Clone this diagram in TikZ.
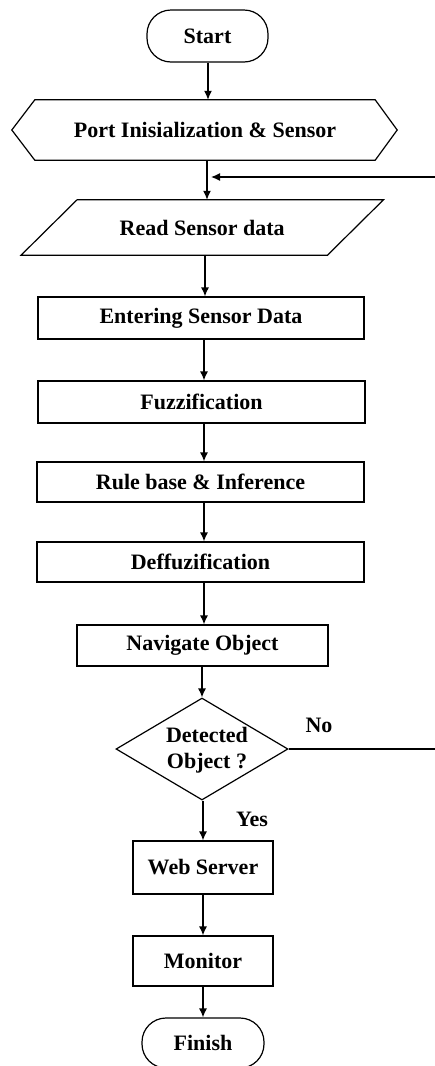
\documentclass[tikz,border=0pt]{standalone}
\usepackage{fontspec}
\setmainfont{Liberation Serif}
\usetikzlibrary{shapes.geometric,arrows.meta}
\begin{document}
\begin{tikzpicture}[x=1pt,y=1pt,
  every node/.style={inner sep=0pt,font=\fontsize{22}{26}\selectfont\bfseries},
  box/.style={draw,rectangle,line width=1.2pt},
  term/.style={draw,rectangle,rounded corners=24pt,line width=1.2pt},
  frame/.style={rectangle,draw=none},
  outline/.style={draw,line width=1.2pt,line join=miter},
  arr/.style={line width=1.3pt,-{Latex[length=9pt,width=8pt]}},
  lbl/.style={anchor=center}
]
\useasboundingbox (0,0) rectangle (435,-1066);
\fill[white] (0,0) rectangle (435,-1066);

% terminals and process boxes
\node[term,minimum width=121pt,minimum height=52pt] (start) at (207.5,-36) {Start};

% preparation (hexagon)
\node[frame,minimum width=340pt,minimum height=60pt] (hex) at (205,-130) {Port Inisialization \& Sensor};
\draw[outline] (hex.north west) -- (hex.north east) -- ([xshift=22pt]hex.east)
  -- (hex.south east) -- (hex.south west) -- ([xshift=-23pt]hex.west) -- cycle;

% input (parallelogram)
\node[frame,minimum width=306pt,minimum height=55pt] (read) at (202.25,-227.5) {Read Sensor data};
\draw[outline] ([xshift=28pt]read.north west) -- ([xshift=28pt]read.north east)
  -- ([xshift=-28pt]read.south east) -- ([xshift=-28pt]read.south west) -- cycle;

\node[box,minimum width=326pt,minimum height=42pt] (enter) at (201,-318) {Entering Sensor Data};
\node[box,minimum width=327pt,minimum height=42pt] (fuzz) at (201.5,-402) {Fuzzification};
\node[box,minimum width=327pt,minimum height=40pt] (rule) at (200.5,-482) {Rule base \& Inference};
\node[box,minimum width=327pt,minimum height=40pt] (deff) at (200.5,-562) {Deffuzification};
\node[box,minimum width=251pt,minimum height=41pt] (nav) at (202.5,-645.5) {Navigate Object};

% decision
\node[diamond,draw,line width=1.2pt,minimum width=172pt,minimum height=102pt] (dec) at (202,-749) {};
\node[align=center] (dectext) at (207,-750) {Detected\\Object ?};

\node[box,minimum width=140pt,minimum height=53pt] (web) at (203,-867.5) {Web Server};
\node[box,minimum width=140pt,minimum height=50pt] (mon) at (203,-961) {Monitor};
\node[term,minimum width=122pt,minimum height=50pt] (fin) at (203,-1043) {Finish};

% branch labels
\node[lbl] (nolbl) at (319,-725) {No};
\node[lbl] (yeslbl) at (252,-819) {Yes};

% main flow
\draw[arr] (208,0 |- start.south) -- (208,0 |- hex.north);
\draw[arr] (207,0 |- hex.south) -- (207,0 |- read.north);
\draw[arr] (205,0 |- read.south) -- (205,0 |- enter.north);
\draw[arr] (204,0 |- enter.south) -- (204,0 |- fuzz.north);
\draw[arr] (204,0 |- fuzz.south) -- (204,0 |- rule.north);
\draw[arr] (204,0 |- rule.south) -- (204,0 |- deff.north);
\draw[arr] (204,0 |- deff.south) -- (204,0 |- nav.north);
\draw[arr] (202,0 |- nav.south) -- (202,0 |- dec.north);
\draw[arr] (203,0 |- dec.south) -- (203,0 |- web.north);
\draw[arr] (203,0 |- web.south) -- (203,0 |- mon.north);
\draw[arr] (203,0 |- mon.south) -- (203,0 |- fin.north);

% loop back when nothing is detected
\coordinate (loopdown) at (448,-749);
\coordinate (loopup) at (448,-177);
\coordinate (loopin) at (211,-177);
\draw[arr] (dec.east) -- (loopdown) -- (loopup) -- (loopin);
\end{tikzpicture}
\end{document}
